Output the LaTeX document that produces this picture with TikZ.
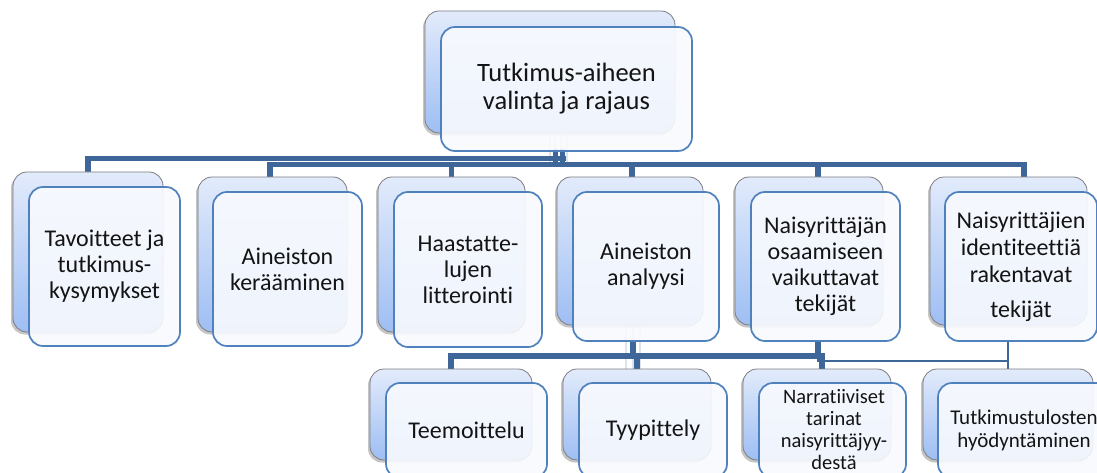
\documentclass[tikz,border=0pt]{standalone}
\usepackage{fontspec}
\setmainfont{Carlito}[Ligatures={NoCommon}]
\usetikzlibrary{shadows,calc}
\definecolor{busc}{RGB}{62,102,152}
\definecolor{frontedge}{RGB}{79,129,189}
\definecolor{frontfill}{RGB}{248,250,254}
\definecolor{backtop}{RGB}{226,235,251}
\definecolor{backbot}{RGB}{158,190,243}
\definecolor{backedge}{RGB}{125,125,130}
\definecolor{ghostc}{RGB}{222,228,236}
\tikzset{
  backbox/.style={draw=backedge, line width=0.8pt, rounded corners=14pt,
    top color=backtop, bottom color=backbot,
    drop shadow={shadow xshift=-2pt, shadow yshift=-2.5pt, opacity=0.45},
    inner sep=0pt},
  frontbox/.style={draw=frontedge, line width=1.7pt, rounded corners=14pt,
    fill=frontfill, fill opacity=0.9, text opacity=1, align=center,
    inner sep=0pt, text=black!92},
  busline/.style={draw=busc, line width=5.3pt},
  thinline/.style={draw=busc, line width=2.8pt},
  ghost/.style={draw=ghostc, line width=2.2pt},
  big/.style={font=\fontsize{26.5}{28}\selectfont},
  mid/.style={font=\fontsize{24}{26}\selectfont},
  small/.style={font=\fontsize{21}{24}\selectfont},
}
\begin{document}
\begin{tikzpicture}[x=1pt,y=-1pt]
\useasboundingbox (0,0) rectangle (1097,473);
\clip (0,0) rectangle (1097,473);
\fill[white] (0,0) rectangle (1097,473);

% invisible helper nodes for connector anchors
\node[minimum width=250pt, minimum height=122pt, inner sep=0pt] (topback) at (550,72) {};
\node[minimum width=251pt, minimum height=124pt, inner sep=0pt] (topfront) at (566.5,87) {};
\node[minimum width=150pt, minimum height=160pt, inner sep=0pt] (b1back) at (88,252) {};
\node[minimum width=149pt, minimum height=155pt, inner sep=0pt] (b2back) at (272.5,254.5) {};
\node[minimum width=147pt, minimum height=155pt, inner sep=0pt] (b3back) at (451.5,254.5) {};
\node[minimum width=146pt, minimum height=148pt, inner sep=0pt] (b4back) at (630,251) {};
\node[minimum width=148pt, minimum height=148pt, inner sep=0pt] (b5back) at (809,251) {};
\node[minimum width=157pt, minimum height=148pt, inner sep=0pt] (b6back) at (1008.5,251) {};
\node[minimum width=146pt, minimum height=149pt, inner sep=0pt] (b4front) at (646,266.5) {};
\node[minimum width=149pt, minimum height=149pt, inner sep=0pt] (b5front) at (825.5,266.5) {};
\node[minimum width=152pt, minimum height=149pt, inner sep=0pt] (b6front) at (1021,266.5) {};
\node[minimum width=162pt, minimum height=91pt, inner sep=0pt] (tback) at (451,414.5) {};
\node[minimum width=148pt, minimum height=91pt, inner sep=0pt] (tyback) at (637,414.5) {};
\node[minimum width=148pt, minimum height=91pt, inner sep=0pt] (nback) at (817,414.5) {};
\node[minimum width=170pt, minimum height=91pt, inner sep=0pt] (tuback) at (1008,414.5) {};

% ---- connectors (behind boxes) ----
\coordinate (busA) at (566,158.5);
\coordinate (busB) at (566,164.5);
\foreach \dx in {0,5,11,17}
  \draw[ghost] ([xshift=\dx pt]topback.south) -- ++(0,32);
\draw[busline] ([xshift=-11pt]topfront.south) -- ++(0,16);
\draw[busline] ([xshift=-4pt]topfront.south) -- ++(0,16);
\draw[busline] (b1back.north) |- (busA);
\draw[busline] ([xshift=-2.5pt]b2back.north) |- (busB);
\draw[busline] (b3back.north) |- (busB);
\draw[busline] ([xshift=2pt]b4back.north) |- (busB);
\draw[busline] ([xshift=9pt]b5back.north) |- (busB);
\draw[busline] ([xshift=15.5pt]b6back.north) |- (busB);

\coordinate (busC) at (633,356);
\coordinate (busD) at (1008,361);
\foreach \dx in {-4,3,10}
  \draw[ghost] ([xshift=\dx pt]b4back.south) -- ++(0,44);
\draw[busline] ([xshift=-13pt]b4front.south) -- (busC);
\draw[busline] (tback.north) |- (busC);
\draw[busline] (tyback.north) |- (busC);
\draw[busline] ([xshift=5pt]nback.north) |- (busC);
\draw[thinline] ([xshift=-7.5pt]b5front.south) |- (busD);
\draw[busline] ([xshift=-7.5pt]b5front.south) -- ++(0,15);
\draw[thinline] (tuback.north) -- ++(0,-28);

% ---- boxes ----
\node[backbox, minimum width=250pt, minimum height=122pt] (topbackbox) at (topback) {};
\node[frontbox, big, minimum width=251pt, minimum height=124pt] (topbox) at (566.5,89)
  {Tutkimus-aiheen\\valinta ja rajaus};

\node[backbox, minimum width=150pt, minimum height=160pt] (b1backbox) at (b1back) {};
\node[frontbox, mid, minimum width=151pt, minimum height=159pt] (b1) at (104.5,266.5)
  {Tavoitteet ja\\tutkimus-\\kysymykset};

\node[backbox, minimum width=149pt, minimum height=155pt] (b2backbox) at (b2back) {};
\node[frontbox, mid, minimum width=149pt, minimum height=154pt] (b2) at (287.5,269)
  {Aineiston\\kerääminen};

\node[backbox, minimum width=147pt, minimum height=155pt] (b3backbox) at (b3back) {};
\node[frontbox, mid, minimum width=148pt, minimum height=155pt] (b3) at (468,269.5)
  {Haastatte-\\lujen\\litterointi};

\node[backbox, minimum width=146pt, minimum height=148pt] (b4backbox) at (b4back) {};
\node[frontbox, mid, minimum width=146pt, minimum height=149pt] (b4) at (b4front)
  {Aineiston\\analyysi};

\node[backbox, minimum width=148pt, minimum height=148pt] (b5backbox) at (b5back) {};
\node[frontbox, mid, minimum width=149pt, minimum height=149pt] (b5) at (b5front)
  {Naisyrittäjän\\osaamiseen\\vaikuttavat\\tekijät};

\node[backbox, minimum width=157pt, minimum height=148pt] (b6backbox) at (b6back) {};
\node[frontbox, mid, minimum width=152pt, minimum height=149pt, font=\fontsize{24}{27}\selectfont] (b6) at (b6front)
  {Naisyrittäjien\\identiteettiä\\rakentavat\\[8pt]tekijät};

\node[backbox, minimum width=162pt, minimum height=91pt] (tbackbox) at (tback) {};
\node[frontbox, mid, minimum width=161pt, minimum height=95pt] (t) at (466.5,430.5)
  {Teemoittelu};

\node[backbox, minimum width=148pt, minimum height=91pt] (tybackbox) at (tyback) {};
\node[frontbox, mid, minimum width=148pt, minimum height=95pt] (ty) at (653,430.5)
  {Tyypittely};

\node[backbox, minimum width=148pt, minimum height=91pt] (nbackbox) at (nback) {};
\node[frontbox, minimum width=147pt, minimum height=95pt] (n) at (832.5,430.5)
  {};
\node[font=\fontsize{20.5}{22}\selectfont, align=center, inner sep=0pt, text=black!92] (ntext) at (834,430)
  {Narratiiviset\\tarinat\\naisyrittäjyy-\\destä};

\node[backbox, minimum width=170pt, minimum height=91pt] (tubackbox) at (tuback) {};
\node[frontbox, minimum width=172pt, minimum height=95pt, font=\fontsize{21}{23}\selectfont] (tu) at (1024,430.5)
  {Tutkimustulosten\\hyödyntäminen};
\end{tikzpicture}
\end{document}
